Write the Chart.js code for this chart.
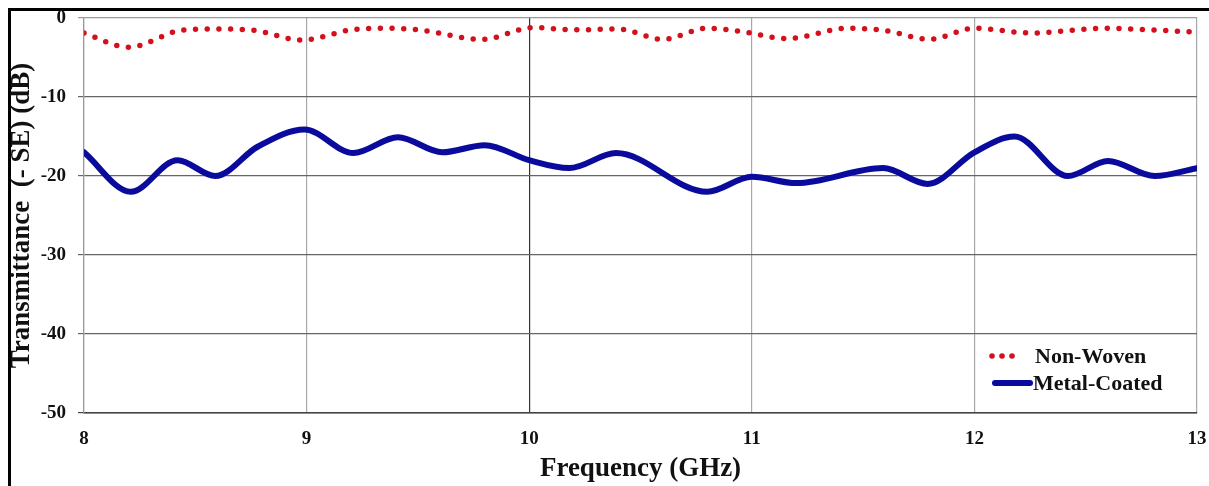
<!DOCTYPE html>
<html>
<head>
<meta charset="utf-8">
<script src="https://cdn.jsdelivr.net/npm/chart.js@4/dist/chart.umd.min.js"></script>
<style>
  body { margin: 0; background: #fff; }
  #wrap { width: 1209px; height: 486px; }
</style>
</head>
<body>
<div id="wrap"><canvas id="chart" width="1209" height="486"></canvas></div>
<script>
// Non-Woven (dotted red)
const nonWovenFreq = [8.0, 8.2, 8.45, 8.6, 8.75, 8.98, 9.2, 9.35, 9.5, 9.79, 10.02, 10.2, 10.4, 10.6, 10.8, 10.95, 11.16, 11.43, 11.6, 11.8, 12.0, 12.26, 12.58, 12.8, 13.0];
const nonWovenDb   = [-1.9, -3.7, -1.5, -1.4, -1.5, -2.8, -1.5, -1.3, -1.5, -2.7, -1.2, -1.5, -1.4, -2.7, -1.3, -1.7, -2.6, -1.3, -1.6, -2.7, -1.3, -1.9, -1.3, -1.5, -1.8];

// Metal-Coated (solid blue)
const metalFreq = [8.0, 8.21, 8.42, 8.59, 8.78, 8.99, 9.21, 9.41, 9.61, 9.8, 10.0, 10.18, 10.39, 10.8, 11.0, 11.2, 11.59, 11.79, 12.0, 12.18, 12.42, 12.6, 12.81, 13.0];
const metalDb   = [-17, -22, -18, -20, -16.3, -14.1, -17.1, -15.1, -17, -16.1, -18, -19, -17.1, -22, -20.1, -20.9, -19, -21, -17, -15, -20, -18.1, -20, -19];

const xTicks = [8, 9, 10, 11, 12, 13];
const yTicks = [0, -10, -20, -30, -40, -50];

const serif = '"Liberation Serif", "Times New Roman", serif';

const toPoints = (xs, ys) => xs.map((x, i) => ({ x, y: ys[i] }));

// black frame round the figure (left and top edges are visible)
const framePlugin = {
  id: 'frame',
  beforeDraw(chart) {
    const ctx = chart.ctx;
    ctx.save();
    ctx.fillStyle = '#fff';
    ctx.fillRect(0, 0, chart.width, chart.height);
    ctx.fillStyle = '#000';
    ctx.fillRect(8, 8, chart.width - 8, 3);
    ctx.fillRect(8, 8, 3, chart.height - 8);
    ctx.restore();
  }
};

// legend in the lower right corner of the plot
const legendPlugin = {
  id: 'cornerLegend',
  afterDraw(chart) {
    const ctx = chart.ctx;
    const ds = chart.data.datasets;
    ctx.save();
    ctx.font = 'bold 22px ' + serif;
    ctx.textBaseline = 'middle';

    // Non-Woven: three dots
    ctx.fillStyle = ds[0].borderColor;
    [992, 1002, 1012].forEach(x => {
      ctx.beginPath();
      ctx.arc(x, 356, 2.8, 0, Math.PI * 2);
      ctx.fill();
    });
    ctx.fillStyle = '#111';
    ctx.fillText(ds[0].label, 1035, 357);

    // Metal-Coated: short thick line
    ctx.strokeStyle = ds[1].borderColor;
    ctx.lineWidth = 6;
    ctx.lineCap = 'round';
    ctx.beginPath();
    ctx.moveTo(995, 383);
    ctx.lineTo(1030, 383);
    ctx.stroke();
    ctx.fillText(ds[1].label, 1033, 384);
    ctx.restore();
  }
};

new Chart(document.getElementById('chart'), {
  type: 'line',
  data: {
    datasets: [{
      label: 'Non-Woven',
      data: toPoints(nonWovenFreq, nonWovenDb),
      borderColor: '#d4101c',
      borderWidth: 5.5,
      borderDash: [0, 11.7],
      borderCapStyle: 'round',
      cubicInterpolationMode: 'monotone',
      pointRadius: 0,
      fill: false,
    }, {
      label: 'Metal-Coated',
      data: toPoints(metalFreq, metalDb),
      borderColor: '#0a0a9c',
      borderWidth: 6,
      borderCapStyle: 'round',
      borderJoinStyle: 'round',
      cubicInterpolationMode: 'monotone',
      pointRadius: 0,
      fill: false,
    }],
  },
  options: {
    responsive: false,
    animation: false,
    layout: { padding: { left: 0, right: 12, top: 18, bottom: 0 } },
    plugins: {
      legend: { display: false },
      tooltip: { enabled: false },
    },
    scales: {
      x: {
        type: 'linear',
        min: 8,
        max: 13,
        afterFit: (scale) => {
          scale.height = 73;
          scale.paddingLeft = 0;
          scale.paddingRight = 0;
        },
        afterBuildTicks: (scale) => { scale.ticks = xTicks.map(v => ({ value: v })); },
        ticks: {
          color: '#111',
          font: { family: serif, size: 19, weight: 'bold' },
          padding: 15,
          maxRotation: 0,
        },
        grid: {
          drawTicks: false,
          color: (c) => (c.tick && c.tick.value === 10 ? '#333' : '#a8a8a8'),
          lineWidth: 1.2,
        },
        border: { color: '#444', width: 1.5 },
        title: {
          display: true,
          text: 'Frequency (GHz)',
          color: '#111',
          font: { family: serif, size: 27, weight: 'bold' },
          padding: { top: 0, bottom: 1 },
        },
      },
      y: {
        min: -50,
        max: 0,
        afterFit: (scale) => {
          scale.width = 84;
          scale.paddingTop = 0;
          scale.paddingBottom = 0;
        },
        afterBuildTicks: (scale) => { scale.ticks = yTicks.map(v => ({ value: v })); },
        ticks: {
          color: '#111',
          font: { family: serif, size: 19, weight: 'bold' },
          padding: 12,
        },
        grid: {
          tickLength: 6,
          color: (c) => {
            if (!c.tick) return '#666';
            if (c.tick.value === -50) return '#444';
            if (c.tick.value === 0) return '#999';
            return '#666';
          },
          lineWidth: 1.2,
        },
        border: { color: '#999', width: 1.2 },
        title: {
          display: true,
          text: 'Transmittance  (- SE) (dB)',
          color: '#111',
          font: { family: serif, size: 27, weight: 'bold' },
          padding: { top: 6, bottom: 0 },
        },
      },
    },
  },
  plugins: [framePlugin, legendPlugin],
});
</script>
</body>
</html>
